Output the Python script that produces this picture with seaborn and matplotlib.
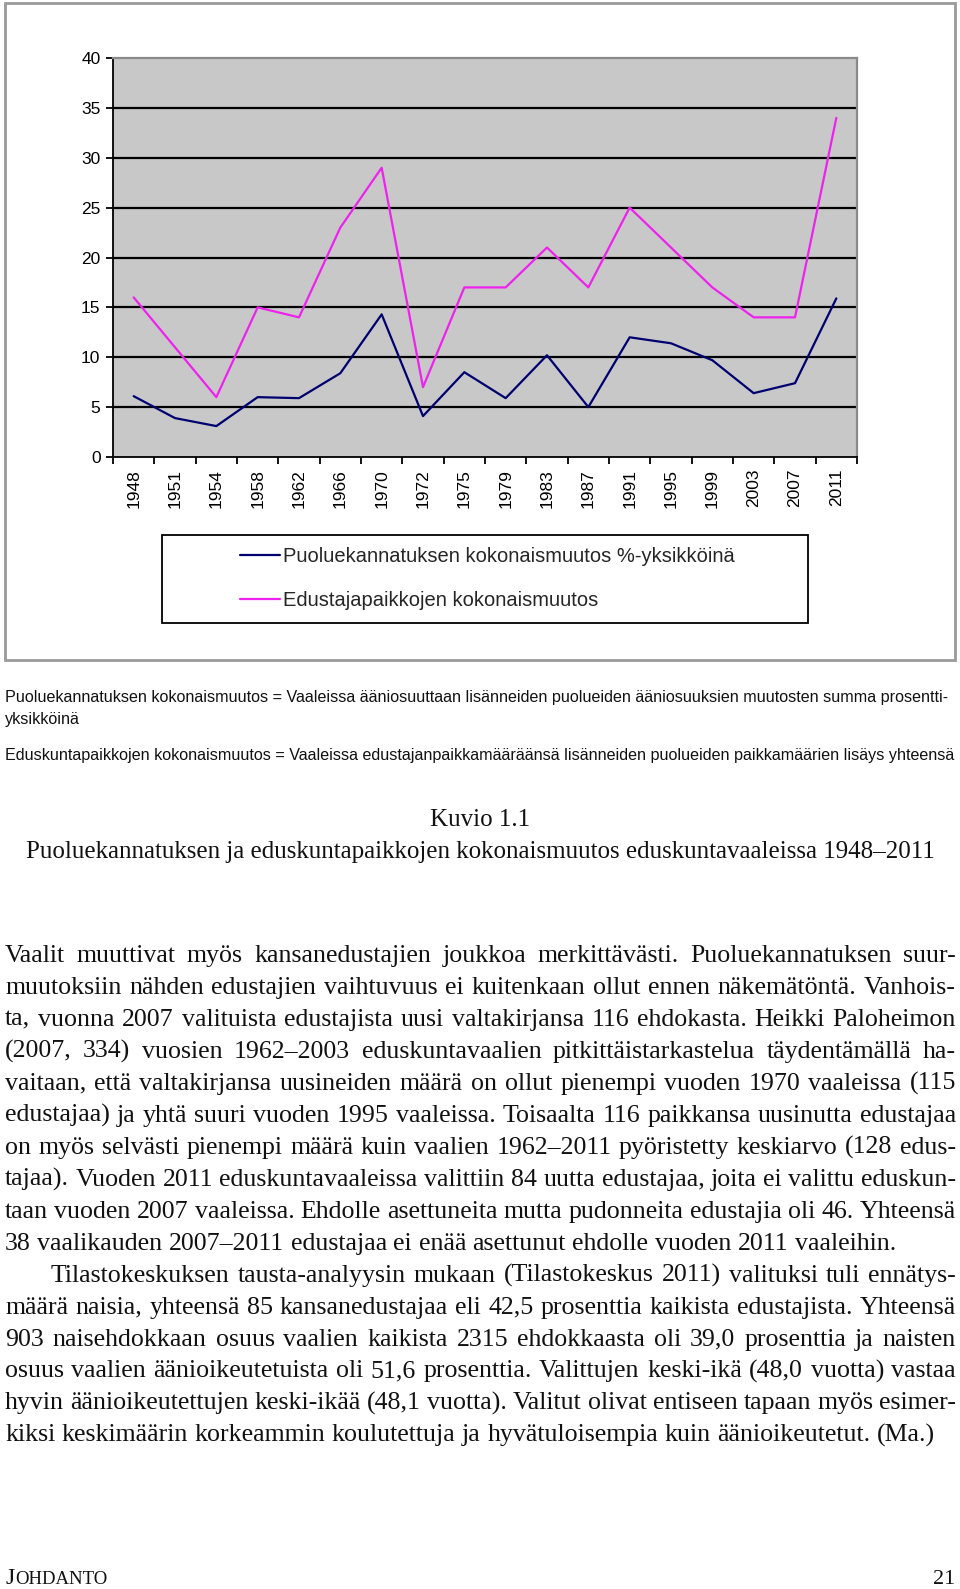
import numpy as np
import pandas as pd
import matplotlib
matplotlib.use("Agg")
import matplotlib.pyplot as plt
import seaborn as sns
from matplotlib import font_manager as fm
from matplotlib.patches import Rectangle
from matplotlib.lines import Line2D

# ---------------- data ----------------
years = ["1948", "1951", "1954", "1958", "1962", "1966", "1970", "1972", "1975",
         "1979", "1983", "1987", "1991", "1995", "1999", "2003", "2007", "2011"]
support_change = [6.1, 3.9, 3.1, 6.0, 5.9, 8.4, 14.3, 4.1, 8.5,
                  5.9, 10.2, 5.0, 12.0, 11.4, 9.7, 6.4, 7.4, 15.9]
seat_change = [16, 11, 6, 15, 14, 23, 29, 7, 17,
               17, 21, 17, 25, 21, 17, 14, 14, 34]
series_names = ["Puoluekannatuksen kokonaismuutos %-yksikköinä",
                "Edustajapaikkojen kokonaismuutos"]
y_ticks = [0, 5, 10, 15, 20, 25, 30, 35, 40]

notes = [
    "Puoluekannatuksen kokonaismuutos = Vaaleissa ääniosuuttaan lisänneiden puolueiden ääniosuuksien muutosten summa prosentti-",
    "yksikköinä",
    "Eduskuntapaikkojen kokonaismuutos = Vaaleissa edustajanpaikkamääräänsä lisänneiden puolueiden paikkamäärien lisäys yhteensä",
]
caption_label = "Kuvio 1.1"
caption_title = "Puoluekannatuksen ja eduskuntapaikkojen kokonaismuutos eduskuntavaaleissa 1948–2011"

body_lines = [
    ("Vaalit muuttivat myös kansanedustajien joukkoa merkittävästi.  Puoluekannatuksen suur-", True, False),
    ("muutoksiin nähden edustajien vaihtuvuus ei kuitenkaan ollut ennen näkemätöntä. Vanhois-", True, False),
    ("ta, vuonna 2007 valituista edustajista uusi valtakirjansa 116 ehdokasta. Heikki Paloheimon", True, False),
    ("(2007, 334) vuosien 1962–2003 eduskuntavaalien pitkittäistarkastelua täydentämällä ha-", True, False),
    ("vaitaan, että valtakirjansa uusineiden määrä on ollut pienempi vuoden 1970 vaaleissa (115", True, False),
    ("edustajaa) ja yhtä suuri vuoden 1995 vaaleissa. Toisaalta 116 paikkansa uusinutta edustajaa", True, False),
    ("on myös selvästi pienempi määrä kuin vaalien 1962–2011 pyöristetty keskiarvo (128 edus-", True, False),
    ("tajaa). Vuoden 2011 eduskuntavaaleissa valittiin 84 uutta edustajaa, joita ei valittu eduskun-", True, False),
    ("taan vuoden 2007 vaaleissa. Ehdolle asettuneita mutta pudonneita edustajia oli 46. Yhteensä", True, False),
    ("38 vaalikauden 2007–2011 edustajaa ei enää asettunut ehdolle vuoden 2011 vaaleihin.", False, False),
    ("Tilastokeskuksen tausta-analyysin mukaan (Tilastokeskus 2011) valituksi tuli ennätys-", True, True),
    ("määrä naisia, yhteensä 85 kansanedustajaa eli 42,5 prosenttia kaikista edustajista. Yhteensä", True, False),
    ("903 naisehdokkaan osuus vaalien kaikista 2315 ehdokkaasta oli 39,0 prosenttia ja naisten", True, False),
    ("osuus vaalien äänioikeutetuista oli 51,6 prosenttia. Valittujen keski-ikä (48,0 vuotta) vastaa", True, False),
    ("hyvin äänioikeutettujen keski-ikää (48,1 vuotta).  Valitut olivat entiseen tapaan myös esimer-", True, False),
    ("kiksi keskimäärin korkeammin koulutettuja ja hyvätuloisempia kuin äänioikeutetut. (Ma.)", False, False),
]
footer_left = ("J", "OHDANTO")
footer_right = "21"

# ---------------- setup ----------------
W, H = 960, 1589
sns.set_theme(style="white")
plt.rcParams["font.family"] = ["Liberation Sans", "DejaVu Sans"]

names = {f.name for f in fm.fontManager.ttflist}
NARROW = "Liberation Sans Narrow" if "Liberation Sans Narrow" in names else "Liberation Sans"
SERIF = "Liberation Serif" if "Liberation Serif" in names else "DejaVu Serif"
SANS = "Liberation Sans" if "Liberation Sans" in names else "DejaVu Sans"

fig = plt.figure(figsize=(W / 100, H / 100), dpi=100)
fig.patch.set_facecolor("white")
renderer = fig.canvas.get_renderer()


def fx(x):
    return x / W


def fy(y):
    return 1 - y / H


def measure(s, size, family):
    t = fig.text(0, 0, s, fontsize=size, family=family)
    w = t.get_window_extent(renderer).width
    t.remove()
    return w


# ---------------- chart ----------------
ax = fig.add_axes([fx(113), fy(457), fx(857) - fx(113), fy(58) - fy(457)])
df = pd.DataFrame({
    "Vuosi": years * 2,
    "Arvo": support_change + seat_change,
    "Sarja": [series_names[0]] * len(years) + [series_names[1]] * len(years),
})
palette = {series_names[0]: "#000070", series_names[1]: "#EE22EE"}
sns.lineplot(data=df, x="Vuosi", y="Arvo", hue="Sarja", palette=palette,
             sort=False, estimator=None, ax=ax, linewidth=1.6, legend=False)

ax.set_facecolor("#C8C8C8")
ax.set_xlim(-0.5, len(years) - 0.5)
ax.set_ylim(0, 40)
ax.set_xlabel("")
ax.set_ylabel("")
ax.set_yticks(y_ticks)
ax.set_yticklabels([str(v) for v in y_ticks])
ax.set_xticks(range(len(years)))
ax.set_xticklabels(years, rotation=90)
ax.set_xticks(np.arange(-0.5, len(years), 1.0), minor=True)
ax.tick_params(axis="x", which="major", length=0, pad=8.5, labelsize=12.5,
               labelcolor="black")
ax.tick_params(axis="x", which="minor", length=5, width=1.3, direction="out",
               color="black", bottom=True)
ax.tick_params(axis="y", which="major", length=5, width=1.3, direction="out",
               color="black", left=True, pad=4, labelsize=12.5, labelcolor="black")
for lab in ax.get_xticklabels() + ax.get_yticklabels():
    lab.set_family(SANS)

ax.set_axisbelow(True)
ax.yaxis.grid(True, color="black", linewidth=1.6)
ax.xaxis.grid(False)
gl = ax.get_ygridlines()
gl[0].set_visible(False)
gl[-1].set_visible(False)
for side in ("left", "bottom"):
    ax.spines[side].set_color("black")
    ax.spines[side].set_linewidth(1.3)
for side in ("top", "right"):
    ax.spines[side].set_color("#8A8A8A")
    ax.spines[side].set_linewidth(1.6)

# legend
handles = [Line2D([], [], color=palette[n], lw=1.6) for n in series_names]
fig.legend(handles, series_names, loc="upper left",
           bbox_to_anchor=(fx(240), fy(547)), bbox_transform=fig.transFigure,
           frameon=False, handlelength=2.0, handletextpad=0.15,
           labelspacing=1.22, borderpad=0, borderaxespad=0,
           prop={"family": SANS, "size": 14.5})
fig.add_artist(Rectangle((fx(162), fy(623)), (808 - 162) / W, (623 - 535) / H,
                         transform=fig.transFigure, fill=False,
                         edgecolor="black", linewidth=1.3))
# outer chart frame
fig.add_artist(Rectangle((fx(5), fy(660)), (955 - 5) / W, (660 - 3) / H,
                         transform=fig.transFigure, fill=False,
                         edgecolor="#9A9A9A", linewidth=2))

# ---------------- notes ----------------
ref = 14
wn = measure(notes[0], ref, NARROW)
note_size = ref * (953 - 5) / wn
for s, yb in zip(notes, [702, 724, 760]):
    fig.text(fx(5), fy(yb), s, fontsize=note_size, family=NARROW,
             va="baseline", ha="left", color="#111111")

# ---------------- caption ----------------
wt = measure(caption_title, ref, SERIF)
cap_size = ref * (938 - 22) / wt
fig.text(0.5, fy(826), caption_label, fontsize=cap_size, family=SERIF,
         ha="center", va="baseline", color="#111111")
fig.text(0.5, fy(858), caption_title, fontsize=cap_size, family=SERIF,
         ha="center", va="baseline", color="#111111")

# ---------------- body text ----------------
X0, X1 = 5, 956
INDENT = 51
sp_ref = measure("n n", ref, SERIF) - measure("nn", ref, SERIF)
maxw = 0
for s, just, ind in body_lines:
    words = s.split()
    tot = sum(measure(w, ref, SERIF) for w in words) + sp_ref * 0.8 * (len(words) - 1)
    avail = (X1 - (INDENT if ind else X0))
    maxw = max(maxw, tot / avail)
body_size = min(19.0, ref / maxw * 0.995)
space_w = measure("n n", body_size, SERIF) - measure("nn", body_size, SERIF)

y_base = 962
for i, (s, just, ind) in enumerate(body_lines):
    yb = y_base + i * 31.96
    words = s.split()
    objs = [fig.text(0, fy(yb), w, fontsize=body_size, family=SERIF,
                     va="baseline", ha="left", color="#111111") for w in words]
    widths = [o.get_window_extent(renderer).width for o in objs]
    x = INDENT if ind else X0
    gap = (X1 - x - sum(widths)) / (len(words) - 1) if just else space_w
    for o, w in zip(objs, widths):
        o.set_x(fx(x))
        x += w + gap

# ---------------- footer ----------------
tJ = fig.text(fx(5), fy(1584), footer_left[0], fontsize=17, family=SERIF,
              va="baseline", ha="left", color="#111111")
wJ = tJ.get_window_extent(renderer).width
fig.text(fx(5 + wJ + 1), fy(1584), footer_left[1], fontsize=13.5, family=SERIF,
         va="baseline", ha="left", color="#111111")
fig.text(fx(955), fy(1584), footer_right, fontsize=16, family=SERIF,
         va="baseline", ha="right", color="#111111")

fig.savefig("out.png", dpi=100, facecolor="white")
